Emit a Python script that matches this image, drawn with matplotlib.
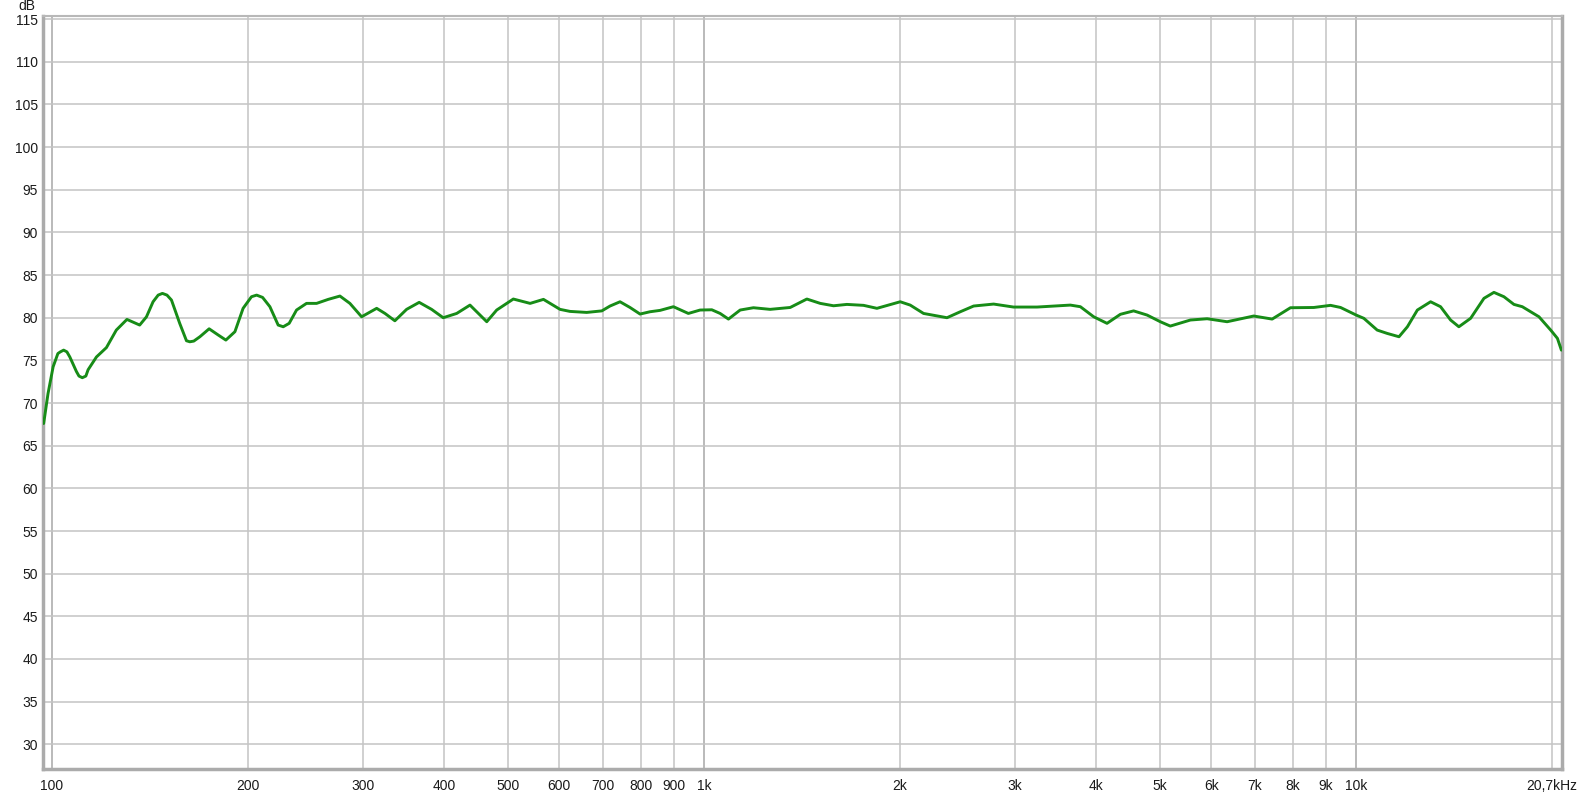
import numpy as np
import matplotlib.pyplot as plt
from matplotlib.ticker import FixedLocator, NullLocator

# frequency response (Hz, dB)
freq = [97.1, 98.6, 100.4, 102.1, 103.0, 104.2, 105.4, 106.5, 109.0, 110.0,
        111.3, 112.7, 113.6, 117.0, 121.2, 125.5, 130.3, 136.3, 139.6, 142.9,
        145.5, 147.7, 150.1, 152.5, 157.0, 160.8, 162.7, 165.0, 168.6, 174.2,
        179.9, 184.8, 190.8, 196.4, 202.3, 206.0, 210.4, 215.9, 222.3, 226.3,
        231.1, 237.2, 245.7, 254.6, 265.3, 276.5, 286.4, 298.5, 314.8, 324.2,
        335.7, 349.9, 365.8, 382.2, 398.2, 417.6, 437.7, 450.8, 464.4, 481.0,
        510.1, 541.3, 567.4, 601.6, 623.1, 661.0, 697.2, 717.8, 743.6, 770.3,
        798.1, 826.8, 856.6, 898.0, 946.6, 986.7, 1028.3, 1059.0, 1090.6, 1136.6,
        1191.2, 1263.5, 1356.3, 1438.6, 1508.2, 1580.7, 1657.1, 1757.5, 1842.6, 2000.6,
        2072.4, 2172.4, 2359.8, 2473.6, 2592.8, 2782.5, 2985.4, 3243.4, 3648.7, 3780,
        3962, 4153, 4354, 4562, 4785, 5013, 5193, 5576, 5915, 6347,
        6973, 7442, 7939, 8622, 9146, 9476, 10014, 10287, 10785, 11173,
        11648, 11999, 12429, 13024, 13490, 13976, 14391, 15002, 15724, 16288,
        16875, 17480, 18006, 19097, 19905, 20383, 20671]
spl = [67.6, 71.1, 74.25, 75.8, 76.0, 76.2, 76.0, 75.4, 73.7, 73.16,
       72.97, 73.16, 73.9, 75.4, 76.5, 78.55, 79.8, 79.14, 80.1, 81.87,
       82.65, 82.85, 82.65, 82.07, 79.34, 77.3, 77.18, 77.26, 77.77, 78.7,
       77.97, 77.38, 78.36, 81.1, 82.46, 82.65, 82.38, 81.29, 79.14, 78.94,
       79.34, 80.9, 81.68, 81.68, 82.15, 82.54, 81.68, 80.11, 81.1, 80.5,
       79.64, 80.98, 81.8, 80.98, 80.0, 80.5, 81.48, 80.5, 79.53, 80.9,
       82.19, 81.68, 82.15, 80.98, 80.74, 80.62, 80.8, 81.37, 81.87, 81.2,
       80.43, 80.7, 80.86, 81.29, 80.5, 80.9, 80.93, 80.5, 79.84, 80.9,
       81.17, 80.98, 81.2, 82.19, 81.68, 81.4, 81.56, 81.45, 81.1, 81.87,
       81.48, 80.5, 80.0, 80.7, 81.37, 81.6, 81.25, 81.25, 81.48, 81.29,
       80.11, 79.34, 80.4, 80.8, 80.31, 79.53, 79.02, 79.73, 79.88, 79.53,
       80.2, 79.84, 81.17, 81.2, 81.45, 81.2, 80.31, 79.93, 78.55, 78.16,
       77.77, 78.94, 80.9, 81.87, 81.29, 79.73, 78.94, 79.93, 82.27, 82.97,
       82.46, 81.56, 81.29, 80.11, 78.55, 77.58, 76.2]

xticks = [100, 200, 300, 400, 500, 600, 700, 800, 900, 1000,
          2000, 3000, 4000, 5000, 6000, 7000, 8000, 9000, 10000, 20000]
xlabels = ["100", "200", "300", "400", "500", "600", "700", "800", "900", "1k",
           "2k", "3k", "4k", "5k", "6k", "7k", "8k", "9k", "10k", "20,7kHz"]
decades = [100, 1000, 10000]
yticks = list(range(30, 116, 5))

plt.rcParams['font.family'] = ['Liberation Sans', 'DejaVu Sans']

fig = plt.figure(figsize=(15.83, 7.93), dpi=100)
ax = fig.add_axes([0.0274, 0.0299, 0.9592, 0.9503])

ax.set_xscale('log')
ax.set_xlim(97.0, 20700)
ax.set_ylim(27.07, 115.4)

ax.xaxis.set_major_locator(FixedLocator(xticks))
ax.xaxis.set_minor_locator(NullLocator())
ax.set_xticklabels(xlabels)
ax.set_yticks(yticks)
ax.grid(True, color='#c4c4c4', linewidth=1.1)
for d in decades:
    ax.axvline(d, color='#858585', linewidth=1.1, zorder=1)

ax.plot(freq, spl, color='#178c17', linewidth=2.1, zorder=3,
        solid_joinstyle='round', solid_capstyle='round')

ax.tick_params(axis='both', length=0, labelsize=10, colors='#1a1a1a')
ax.tick_params(axis='x', pad=7)
ax.tick_params(axis='y', pad=4)

for s in ['left', 'bottom', 'right']:
    ax.spines[s].set_color('#ababab')
    ax.spines[s].set_linewidth(2.5)
ax.spines['top'].set_color('#b8b8b8')
ax.spines['top'].set_linewidth(1.5)

fig.text(27 / 1583, 1 - 6.5 / 793, "dB", ha='center', va='center',
         fontsize=10, color='#1a1a1a')

fig.savefig('out.png', dpi=100)
